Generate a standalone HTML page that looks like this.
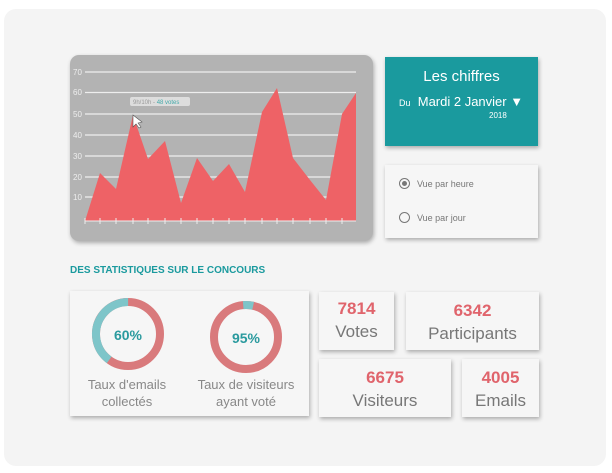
<!DOCTYPE html><html><head><style>
body{margin:0;width:612px;height:473px;background:#fff;font-family:"Liberation Sans",sans-serif;position:relative;overflow:hidden}
.panel{position:absolute;left:4px;top:9px;width:602px;height:457px;background:#f4f4f4;border-radius:12px}
.card{position:absolute;background:#f6f6f6;box-shadow:1px 2px 4px rgba(0,0,0,.3)}
.n{color:#e0646c;font-weight:bold;font-size:17px;text-align:center}
.l{color:#777;font-size:17px;text-align:center;margin-top:3px}
</style></head><body>
<div class="panel"></div>
<div class="card" style="left:70px;top:55px;width:303px;height:186px;background:#b3b3b3;border-radius:9px"></div>
<svg style="position:absolute;left:0;top:0" width="612" height="473">
<g stroke="#eee" stroke-width="1.3">
<line x1="85" x2="356" y1="72" y2="72"/><line x1="85" x2="356" y1="92.5" y2="92.5"/><line x1="85" x2="356" y1="114" y2="114"/><line x1="85" x2="356" y1="135" y2="135"/><line x1="85" x2="356" y1="156" y2="156"/><line x1="85" x2="356" y1="177" y2="177"/><line x1="85" x2="356" y1="197" y2="197"/>
</g>
<g fill="#eee" font-size="8">
<text x="73" y="75">70</text><text x="73" y="95">60</text><text x="73" y="117">50</text><text x="73" y="138">40</text><text x="73" y="159">30</text><text x="73" y="180">20</text><text x="73" y="200">10</text></g>
<polygon fill="#ee6266" points="85,221 100,173 116,189 133,115 148,159 165,141 181,203 197,158 213,181 229,164 245,192 262,112 277,88 293,158 310,180 326,200 342,114 356,93 356,221"/>
<line x1="85" x2="356" y1="221" y2="221" stroke="#eee"/>
<g stroke="#eee"><path d="M85 218v6M100 218v6M116 218v6M133 218v6M148 218v6M165 218v6M181 218v6M197 218v6M213 218v6M229 218v6M245 218v6M262 218v6M277 218v6M293 218v6M310 218v6M326 218v6M342 218v6"/></g>
<rect x="130" y="97" width="60" height="9" rx="2" fill="#ddd"/>
<text x="133" y="104" font-size="6" fill="#999">9h/10h - <tspan fill="#4aa">48 votes</tspan></text>
<path d="M133 115l0 12 3-3 3 4 2-1-3-4 4-1z" fill="#fff" stroke="#555" stroke-width=".6"/>
</svg>
<div class="card" style="left:385px;top:57px;width:153px;height:89px;background:#1a9a9e;color:#fff">
<div style="text-align:center;font-size:15px;margin-top:11px">Les chiffres</div>
<div style="margin-top:9px;margin-left:14px;font-size:13px"><span style="font-size:9px">Du</span> &nbsp;Mardi 2 Janvier ▼</div>
<div style="font-size:8px;margin-left:104px;margin-top:2px">2018</div></div>
<div class="card" style="left:385px;top:165px;width:153px;height:73px;font-size:9px;color:#777">
<div style="position:absolute;left:14px;top:13px;width:9px;height:9px;border:1.5px solid #777;border-radius:50%"><div style="margin:2px;width:5px;height:5px;background:#777;border-radius:50%"></div></div>
<div style="position:absolute;left:32px;top:14px">Vue par heure</div>
<div style="position:absolute;left:14px;top:47px;width:9px;height:9px;border:1.5px solid #777;border-radius:50%"></div>
<div style="position:absolute;left:32px;top:48px">Vue par jour</div></div>
<div style="position:absolute;left:70px;top:265px;color:#1a9a9e;font-weight:bold;font-size:10px">DES STATISTIQUES SUR LE CONCOURS</div>
<div class="card" style="left:70px;top:291px;width:239px;height:125px"></div>
<svg style="position:absolute;left:0;top:0" width="612" height="473">
<circle cx="128" cy="334" r="32" fill="none" stroke="#d97a7c" stroke-width="8"/>
<circle cx="128" cy="334" r="32" fill="none" stroke="#7ec5c9" stroke-width="8" stroke-dasharray="80.4 201" transform="rotate(126 128 334)"/>
<circle cx="246" cy="337" r="32" fill="none" stroke="#d97a7c" stroke-width="8"/>
<circle cx="246" cy="337" r="32" fill="none" stroke="#7ec5c9" stroke-width="8" stroke-dasharray="10 201" transform="rotate(-95 246 337)"/>
<text x="128" y="340" text-anchor="middle" font-size="14" font-weight="bold" fill="#2a9a9e">60%</text>
<text x="246" y="343" text-anchor="middle" font-size="14" font-weight="bold" fill="#2a9a9e">95%</text>
<g fill="#888" font-size="13" text-anchor="middle"><text x="127" y="389">Taux d'emails</text><text x="127" y="406">collectés</text><text x="246" y="389">Taux de visiteurs</text><text x="246" y="406">ayant voté</text></g>
</svg>
<div class="card" style="left:319px;top:292px;width:75px;height:58px"><div class="n" style="margin-top:7px">7814</div><div class="l">Votes</div></div>
<div class="card" style="left:406px;top:292px;width:133px;height:58px"><div class="n" style="margin-top:9px">6342</div><div class="l">Participants</div></div>
<div class="card" style="left:319px;top:359px;width:132px;height:58px"><div class="n" style="margin-top:9px">6675</div><div class="l">Visiteurs</div></div>
<div class="card" style="left:462px;top:359px;width:77px;height:58px"><div class="n" style="margin-top:9px">4005</div><div class="l">Emails</div></div>
</body></html>
